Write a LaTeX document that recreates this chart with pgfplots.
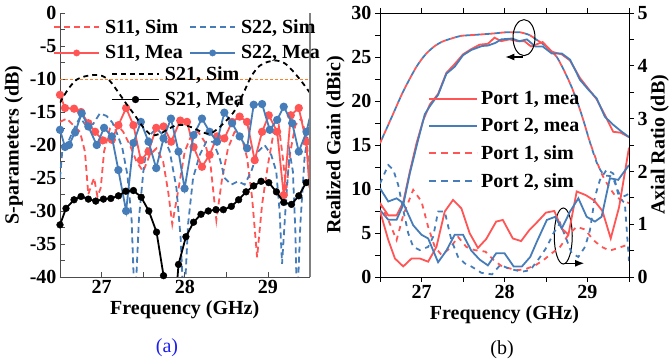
\documentclass[border=0pt]{standalone}
\usepackage{pgfplots}
\pgfplotsset{compat=1.18}
\usepackage{fontspec}
\setmainfont{Liberation Serif}
\usetikzlibrary{arrows.meta}
\definecolor{cred}{RGB}{255,85,85}
\definecolor{cblue}{RGB}{70,125,185}
\definecolor{corange}{RGB}{255,127,39}
\definecolor{capblue}{RGB}{30,30,240}
\newcommand{\bigf}{\fontsize{20}{24}\selectfont\bfseries}
\pgfplotsset{
  every axis/.append style={
    font=\bigf,
    tick label style={font=\bigf},
    label style={font=\bigf},
    /pgf/number format/assume math mode=true,
  },
  legaxis/.style={
    at={(60pt,87pt)}, anchor=south west, scale only axis, width=249.5pt, height=264pt,
    hide axis, xmin=0, xmax=1, ymin=0, ymax=1,
    legend cell align=left,
    legend style={anchor=north west, draw=none, fill=none, font=\bigf,
      inner xsep=3pt, inner ysep=2pt, row sep=6.5pt,
      /tikz/every odd column/.append style={column sep=3pt}},
  },
}
\begin{document}
\begin{tikzpicture}
\useasboundingbox (0pt,0pt) rectangle (670pt,364pt);
% ================= LEFT (a) =================
\begin{axis}[
  at={(60pt,87pt)}, anchor=south west, scale only axis, width=249.5pt, height=264pt,
  xmin=26.5, xmax=29.5, ymin=-40, ymax=0,
  axis x line*=bottom, axis y line*=left,
  axis line style={gray!60!black, line width=0.8pt},
  xtick={27,28,29}, minor xtick={26.5,27.5,28.5,29.5},
  ytick={-40,-35,...,0}, minor ytick={-37.5,-32.5,...,-2.5},
  tick align=inside, major tick length=5pt, minor tick length=5pt,
  every tick/.style={gray!60!black, line width=0.8pt},
  xlabel={Frequency (GHz)}, ylabel={S-parameters (dB)},
  clip mode=individual,
]
\addplot[corange, line width=0.8pt, dash pattern=on 3pt off 2pt] coordinates {(26.5,-10) (29.5,-10)};
% S11 sim
\addplot[cred, line width=1.8pt, dash pattern=on 6pt off 4pt] coordinates {
(26.50,-16.5) (26.58,-16.0) (26.66,-17.0) (26.74,-18.0) (26.80,-21.0) (26.84,-27.5) (26.88,-26.0) (26.91,-25.0) (26.95,-27.8) (26.99,-26.5) (27.03,-21.0) (27.10,-17.5) (27.18,-16.8) (27.26,-18.0) (27.34,-20.0) (27.42,-22.5) (27.50,-24.0) (27.58,-21.5) (27.66,-20.5) (27.74,-22.5) (27.80,-27.0) (27.85,-32.0) (27.92,-27.0) (28.00,-21.0) (28.08,-18.5) (28.16,-18.0) (28.24,-19.5) (28.31,-23.0) (28.38,-31.4) (28.45,-25.0) (28.52,-20.5) (28.60,-18.0) (28.68,-18.5) (28.75,-22.0) (28.81,-28.0) (28.87,-37.0) (28.93,-29.0) (29.00,-23.0) (29.07,-18.0) (29.13,-17.0) (29.18,-22.0) (29.22,-27.0) (29.27,-21.0) (29.33,-17.0) (29.40,-16.0) (29.46,-18.5) (29.50,-24.0)};
% S22 sim
\addplot[cblue, line width=1.8pt, dash pattern=on 6pt off 4pt] coordinates {
(26.50,-25.0) (26.53,-20.5) (26.60,-19.5) (26.67,-17.5) (26.74,-15.8) (26.82,-17.2) (26.90,-16.8) (26.98,-15.2) (27.06,-15.6) (27.13,-16.6) (27.19,-18.4) (27.25,-20.5) (27.31,-24.5) (27.36,-31.0) (27.40,-45.0) (27.45,-31.0) (27.51,-23.0) (27.58,-18.5) (27.66,-17.5) (27.74,-18.5) (27.82,-21.0) (27.90,-26.5) (27.95,-34.0) (27.99,-45.0) (28.04,-32.0) (28.10,-25.0) (28.18,-21.5) (28.26,-19.5) (28.34,-19.5) (28.42,-22.0) (28.48,-25.0) (28.56,-26.0) (28.64,-25.5) (28.72,-26.0) (28.80,-24.0) (28.88,-21.0) (28.96,-20.0) (29.04,-21.5) (29.10,-24.0) (29.14,-30.0) (29.17,-38.0) (29.21,-30.0) (29.26,-21.0) (29.30,-24.0) (29.33,-33.0) (29.35,-45.0) (29.39,-32.0) (29.44,-22.0) (29.50,-16.5)};
% S11 mea
\addplot[cred, line width=1.8pt, mark=*, mark size=3.2pt] coordinates {
(26.500,-12.4) (26.560,-14.4) (26.669,-14.5) (26.753,-15.0) (26.841,-16.7) (26.922,-18.0) (27.014,-19.3) (27.123,-19.2) (27.202,-17.0) (27.295,-14.4) (27.383,-17.0) (27.472,-22.3) (27.564,-21.0) (27.657,-17.4) (27.745,-17.2) (27.837,-19.5) (27.946,-16.3) (28.027,-16.5) (28.106,-20.3) (28.207,-23.3) (28.299,-21.5) (28.388,-18.7) (28.476,-19.0) (28.569,-16.5) (28.660,-15.7) (28.749,-16.5) (28.841,-22.3) (28.930,-18.0) (29.010,-15.5) (29.111,-18.0) (29.190,-27.6) (29.275,-15.5) (29.371,-14.4) (29.460,-19.5)};
\addplot[cred, line width=1.8pt] coordinates {(29.460,-19.5) (29.500,-26.5)};
% S22 mea
\addplot[cblue, line width=1.8pt, mark=*, mark size=3.2pt] coordinates {
(26.500,-17.7) (26.560,-20.3) (26.608,-20.0) (26.681,-18.1) (26.761,-15.2) (26.841,-17.2) (26.942,-20.0) (27.030,-17.4) (27.123,-18.7) (27.202,-23.8) (27.295,-30.0) (27.383,-19.7) (27.472,-16.5) (27.564,-19.5) (27.657,-23.5) (27.745,-19.0) (27.834,-16.0) (27.925,-21.0) (27.998,-26.6) (28.106,-18.5) (28.207,-16.0) (28.299,-18.0) (28.388,-19.5) (28.476,-15.1) (28.569,-16.7) (28.660,-18.7) (28.749,-20.5) (28.829,-13.9) (28.930,-13.8) (29.022,-17.7) (29.111,-16.2) (29.190,-14.2) (29.292,-16.7) (29.371,-21.0) (29.464,-18.0)};
\addplot[cblue, line width=1.8pt] coordinates {(29.464,-18.0) (29.500,-16.0)};
% S21 sim
\addplot[black, line width=1.8pt, dash pattern=on 5pt off 4pt, smooth] coordinates {
(26.50,-13.6) (26.60,-11.5) (26.70,-10.1) (26.80,-9.6) (26.90,-9.4) (27.00,-9.5) (27.10,-10.3) (27.20,-12.0) (27.30,-13.8) (27.40,-15.5) (27.50,-17.3) (27.60,-18.5) (27.70,-18.3) (27.80,-17.6) (27.90,-17.0) (28.00,-17.0) (28.10,-17.4) (28.20,-18.0) (28.30,-18.3) (28.40,-17.5) (28.50,-16.3) (28.60,-14.8) (28.70,-12.3) (28.80,-9.6) (28.90,-8.0) (29.00,-7.4) (29.10,-7.2) (29.20,-7.6) (29.30,-8.8) (29.40,-10.3) (29.50,-12.0)};
% S21 mea
\addplot[black, line width=1.8pt] coordinates {
(26.500,-32.1) (26.572,-29.6) (26.669,-28.3) (26.753,-27.8) (26.841,-28.2) (26.930,-28.5) (27.022,-28.2) (27.111,-28.1) (27.203,-27.7) (27.291,-27.0) (27.383,-26.9) (27.476,-27.9) (27.568,-30.0) (27.661,-33.2) (27.745,-39.8) (27.840,-52.0) (27.925,-38.1) (28.014,-33.9) (28.106,-31.7) (28.195,-30.5) (28.283,-30.0) (28.376,-29.8) (28.464,-29.8) (28.560,-29.3) (28.648,-28.3) (28.737,-27.1) (28.829,-26.2) (28.918,-25.5) (29.010,-25.7) (29.102,-27.1) (29.190,-28.7) (29.283,-29.0) (29.371,-27.7) (29.460,-25.7) (29.500,-25.2)};
\addplot[black, only marks, mark=*, mark size=3.4pt] coordinates {
(26.500,-32.1) (26.572,-29.6) (26.669,-28.3) (26.753,-27.8) (26.841,-28.2) (26.930,-28.5) (27.022,-28.2) (27.111,-28.1) (27.203,-27.7) (27.291,-27.0) (27.383,-26.9) (27.476,-27.9) (27.568,-30.0) (27.661,-33.2) (27.745,-39.8) (27.925,-38.1) (28.014,-33.9) (28.106,-31.7) (28.195,-30.5) (28.283,-30.0) (28.376,-29.8) (28.464,-29.8) (28.560,-29.3) (28.648,-28.3) (28.737,-27.1) (28.829,-26.2) (28.918,-25.5) (29.010,-25.7) (29.102,-27.1) (29.190,-28.7) (29.283,-29.0) (29.371,-27.7) (29.460,-25.7)};
\draw[gray, line width=2pt] (rel axis cs:1,0) -- (rel axis cs:1,1);
\end{axis}
% legend overlays (left)
\begin{axis}[legaxis, legend style={at={(-0.040,0.9905)}}]
\addlegendimage{legend image code/.code={\draw[cred, line width=1.8pt, dash pattern=on 6pt off 4pt] (0pt,0pt) -- (45pt,0pt);}}
\addlegendentry{S11, Sim}
\addlegendimage{legend image code/.code={\draw[cred, line width=1.8pt] (0pt,0pt) -- (45pt,0pt); \fill[cred] (22.5pt,0pt) circle (3.2pt);}}
\addlegendentry{S11, Mea}
\end{axis}
\begin{axis}[legaxis, legend style={at={(0.505,0.9905)}}]
\addlegendimage{legend image code/.code={\draw[cblue, line width=1.8pt, dash pattern=on 6pt off 4pt] (0pt,0pt) -- (45pt,0pt);}}
\addlegendentry{S22, Sim}
\addlegendimage{legend image code/.code={\draw[cblue, line width=1.8pt] (0pt,0pt) -- (45pt,0pt); \fill[cblue] (22.5pt,0pt) circle (3.2pt);}}
\addlegendentry{S22, Mea}
\end{axis}
\begin{axis}[legaxis, legend style={at={(0.192,0.814)}}]
\addlegendimage{legend image code/.code={\draw[black, line width=1.8pt, dash pattern=on 5pt off 4pt] (0pt,0pt) -- (47pt,0pt);}}
\addlegendentry{S21, Sim}
\addlegendimage{legend image code/.code={\draw[black, line width=1.8pt] (0pt,0pt) -- (47pt,0pt); \fill[black] (23.5pt,0pt) circle (3.4pt);}}
\addlegendentry{S21, Mea}
\end{axis}
% ================= RIGHT (b) =================
\begin{axis}[
  at={(380pt,87pt)}, anchor=south west, scale only axis, width=249pt, height=264pt,
  xmin=26.5, xmax=29.5, ymin=0, ymax=30,
  axis y line*=left,
  axis line style={black, line width=0.8pt},
  xtick={27,28,29}, minor xtick={26.5,27.5,28.5,29.5},
  ytick={0,5,...,30}, minor ytick={2.5,7.5,...,27.5},
  tick align=outside, major tick length=5pt, minor tick length=5pt,
  every tick/.style={black, line width=0.8pt},
  xlabel={Frequency (GHz)}, ylabel={Realized Gain (dBic)},
  legend cell align=left,
  legend image code/.code={\draw[#1] (0pt,0pt) -- (48pt,0pt);},
  legend style={at={(0.181,0.718)}, anchor=north west, draw=none, fill=none, font=\bigf,
    inner xsep=3pt, inner ysep=2pt, row sep=8.3pt,
    /tikz/every odd column/.append style={column sep=1pt}},
]
% gain sim
\addplot[cred, line width=1.8pt, dash pattern=on 5pt off 5pt, smooth, forget plot] coordinates {
(26.50,15.2) (26.60,17.3) (26.68,19.0) (26.76,20.7) (26.84,22.2) (26.94,23.9) (27.04,25.2) (27.14,26.1) (27.24,26.7) (27.36,27.1) (27.48,27.4) (27.62,27.5) (27.77,27.6) (27.90,27.7) (28.00,27.8) (28.10,27.8) (28.19,27.8) (28.30,27.5) (28.38,27.0) (28.46,26.5) (28.55,25.8) (28.63,25.0) (28.71,23.6) (28.79,22.0) (28.85,20.6) (28.91,19.0) (28.97,17.2) (29.03,15.3) (29.15,12.2) (29.23,10.7) (29.35,9.1) (29.50,8.4)};
\addplot[cblue, line width=1.8pt, dash pattern=on 5pt off 5pt, dash phase=5pt, smooth, forget plot] coordinates {
(26.50,15.2) (26.60,17.3) (26.68,19.0) (26.76,20.7) (26.84,22.2) (26.94,23.9) (27.04,25.2) (27.14,26.1) (27.24,26.7) (27.36,27.1) (27.48,27.4) (27.62,27.5) (27.77,27.6) (27.90,27.7) (28.00,27.8) (28.10,27.8) (28.19,27.8) (28.30,27.5) (28.38,27.0) (28.46,26.5) (28.55,25.8) (28.63,25.0) (28.71,23.6) (28.79,22.0) (28.85,20.6) (28.91,19.0) (28.97,17.2) (29.03,15.3) (29.12,12.8) (29.20,11.6) (29.30,11.3) (29.40,9.2) (29.50,9.5)};
% gain mea
\addplot[cred, line width=1.8pt, forget plot] coordinates {
(26.50,8.4) (26.60,7.0) (26.70,7.0) (26.78,8.5) (26.86,12.0) (26.94,15.2) (27.02,17.8) (27.10,19.6) (27.20,20.8) (27.30,23.2) (27.40,24.2) (27.50,25.3) (27.60,25.9) (27.70,26.4) (27.80,26.5) (27.88,27.2) (27.96,26.8) (28.06,27.0) (28.16,26.8) (28.24,26.8) (28.32,26.2) (28.46,26.7) (28.57,25.6) (28.69,25.3) (28.79,24.6) (28.91,22.6) (29.01,21.4) (29.11,20.2) (29.21,18.4) (29.31,16.5) (29.40,16.4) (29.50,15.9)};
\addplot[cblue, line width=1.8pt, forget plot] coordinates {
(26.50,7.6) (26.60,6.5) (26.70,6.5) (26.78,8.2) (26.86,11.8) (26.96,15.6) (27.04,18.5) (27.10,19.4) (27.20,20.7) (27.30,23.1) (27.40,23.9) (27.50,25.2) (27.60,25.8) (27.73,26.25) (27.80,26.3) (27.89,26.6) (27.96,27.0) (28.09,27.1) (28.18,26.8) (28.27,27.0) (28.37,26.2) (28.46,26.2) (28.57,25.4) (28.69,25.4) (28.79,24.7) (28.91,22.4) (29.01,21.3) (29.11,20.3) (29.21,18.2) (29.31,17.3) (29.40,16.6) (29.50,15.9)};
% annotations
\draw[black, line width=1pt] (axis cs:28.235,27.2) ellipse [x radius=11pt, y radius=18pt];
\draw[black, line width=1.2pt, -{Latex[length=9pt,width=7pt]}] (axis cs:28.22,25.0) -- (axis cs:28.01,25.0);
\draw[black, line width=1pt] (axis cs:28.708,4.66) ellipse [x radius=9pt, y radius=28pt];
\draw[black, line width=1.2pt, -{Latex[length=9pt,width=7pt]}] (axis cs:28.73,1.56) -- (axis cs:28.96,1.56);
% legend
\addlegendimage{cred, line width=1.8pt}
\addlegendentry{Port 1, mea}
\addlegendimage{cblue, line width=1.8pt}
\addlegendentry{Port 2, mea}
\addlegendimage{cred, line width=1.8pt, dash pattern=on 7pt off 5pt}
\addlegendentry{Port 1, sim}
\addlegendimage{cblue, line width=1.8pt, dash pattern=on 7pt off 5pt}
\addlegendentry{Port 2, sim}
\end{axis}
\begin{axis}[
  at={(380pt,87pt)}, anchor=south west, scale only axis, width=249pt, height=264pt,
  xmin=26.5, xmax=29.5, ymin=0, ymax=5,
  axis x line=none, axis y line*=right,
  axis line style={black, line width=0.8pt},
  ytick={0,1,...,5}, minor ytick={0.5,1.5,...,4.5},
  tick align=outside, major tick length=5pt, minor tick length=5pt,
  every tick/.style={black, line width=0.8pt},
  ylabel={Axial Ratio (dB)},
  ylabel style={at={(axis description cs:1.124,0.5)}, anchor=center},
]
% AR sim
\addplot[cred, line width=1.8pt, dash pattern=on 5pt off 5pt] coordinates {
(26.50,1.40) (26.60,1.08) (26.70,0.70) (26.78,1.17) (26.90,1.65) (27.00,1.43) (27.08,0.95) (27.16,0.57) (27.24,0.42) (27.34,0.54) (27.44,0.76) (27.54,0.57) (27.64,0.51) (27.77,0.48) (27.87,0.32) (27.97,0.20) (28.07,0.16) (28.17,0.13) (28.27,0.16) (28.37,0.22) (28.47,0.32) (28.57,0.45) (28.67,0.57) (28.77,0.80) (28.87,0.95) (28.97,0.90) (29.07,0.70) (29.17,0.57) (29.27,0.50) (29.37,0.55) (29.50,0.62)};
\addplot[cblue, line width=1.8pt, dash pattern=on 5pt off 5pt] coordinates {
(26.50,1.77) (26.60,2.12) (26.66,2.03) (26.72,1.74) (26.78,1.27) (26.84,0.83) (26.90,0.57) (26.98,0.51) (27.08,0.57) (27.14,0.76) (27.20,1.24) (27.28,1.24) (27.36,0.70) (27.44,0.38) (27.52,0.26) (27.60,0.20) (27.72,0.08) (27.85,0.05) (27.95,0.23) (28.05,0.16) (28.21,0.10) (28.31,0.13) (28.43,0.38) (28.51,0.57) (28.59,0.83) (28.67,1.02) (28.75,0.70) (28.81,0.45) (28.89,0.38) (28.97,0.57) (29.03,0.89) (29.09,1.52) (29.15,1.84) (29.23,2.03) (29.31,1.96) (29.38,1.50) (29.45,1.40) (29.50,0.30)};
% AR mea
\addplot[cred, line width=1.8pt] coordinates {
(26.50,1.25) (26.60,0.70) (26.68,0.35) (26.78,0.20) (26.88,0.35) (26.98,0.35) (27.08,0.29) (27.18,0.57) (27.28,1.24) (27.38,1.46) (27.48,1.30) (27.58,0.83) (27.68,0.55) (27.78,0.72) (27.90,1.05) (27.98,1.08) (28.10,0.73) (28.20,0.68) (28.30,0.89) (28.40,1.05) (28.50,1.22) (28.60,1.25) (28.69,0.92) (28.77,0.80) (28.87,1.62) (28.98,1.55) (29.08,1.45) (29.18,1.25) (29.28,0.73) (29.38,1.32) (29.50,2.45)};
\addplot[cblue, line width=1.8pt] coordinates {
(26.50,1.68) (26.60,1.43) (26.70,1.49) (26.78,1.40) (26.90,0.98) (27.00,0.80) (27.08,0.73) (27.20,0.28) (27.30,0.50) (27.40,0.80) (27.50,0.80) (27.60,0.50) (27.70,0.33) (27.80,0.22) (27.90,0.45) (28.00,0.45) (28.11,0.20) (28.21,0.20) (28.31,0.38) (28.39,0.67) (28.51,1.08) (28.61,1.14) (28.69,0.92) (28.79,1.24) (28.89,1.49) (28.99,1.14) (29.09,1.05) (29.17,1.14) (29.27,1.87) (29.37,1.84) (29.50,2.12)};
\end{axis}
% captions
\node[font=\fontsize{20}{24}\selectfont, text=capblue] at (167pt,16pt) {(a)};
\node[font=\fontsize{20}{24}\selectfont, text=black] at (502pt,14pt) {(b)};
\end{tikzpicture}
\end{document}
